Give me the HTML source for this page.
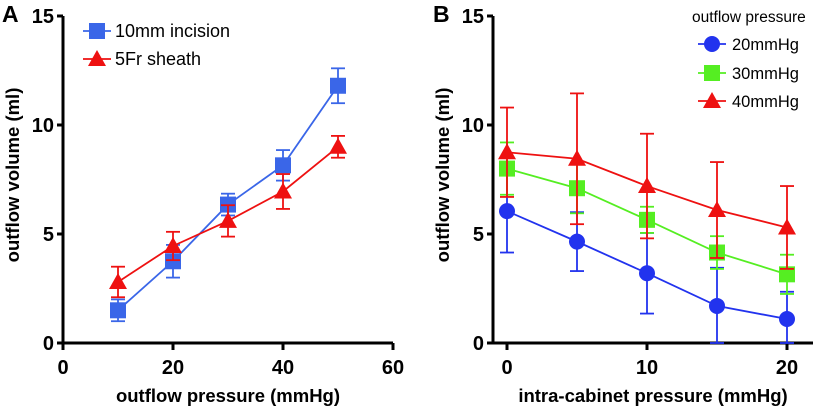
<!DOCTYPE html>
<html><head><meta charset="utf-8"><style>
body{margin:0;background:#fff}
svg text{font-family:"Liberation Sans",Arial,sans-serif;font-weight:bold}
</style></head><body>
<svg id="c" width="816" height="408" viewBox="0 0 816 408" xmlns="http://www.w3.org/2000/svg"></svg>
<script>
const aX=[10,20,30,40,50];
const aBlue=[1.5,3.75,6.35,8.15,11.8];
const aBlueErr=[0.5,0.75,0.5,0.7,0.8];
const aRed=[2.8,4.45,5.6,6.95,9.0];
const aRedErr=[0.7,0.65,0.72,0.8,0.5];
const bX=[0,5,10,15,20];
const b20=[6.05,4.65,3.2,1.7,1.1];
const b20Err=[1.9,1.35,1.85,1.75,1.25];
const b30=[8.0,7.1,5.65,4.15,3.15];
const b30Err=[1.2,1.15,0.6,0.75,0.9];
const b40=[8.75,8.45,7.2,6.1,5.3];
const b40Err=[2.05,3.0,2.4,2.2,1.9];
const aXTicks=[0,20,40,60];
const bXTicks=[0,10,20];
const yTicks=[0,5,10,15];

const svg=document.getElementById('c');
const NS='http://www.w3.org/2000/svg';
function el(t,a,p){const e=document.createElementNS(NS,t);for(const k in a)e.setAttribute(k,a[k]);(p||svg).appendChild(e);return e;}
const Y=v=>343-v*21.8;
const AX=v=>63+v*5.5;
const BX=v=>507+v*14;

function axes(name,axX,xMin,xEnd,xs,ticks,xlabel,xlabCx,letter,letterX){
  const g=el('g',{});
  
  
  el('line',{x1:axX,y1:16,x2:axX,y2:344.5,stroke:'#000','stroke-width':3},g);
  el('line',{x1:axX-1.5,y1:343,x2:xEnd,y2:343,stroke:'#000','stroke-width':3},g);
  yTicks.forEach(v=>{
    el('line',{x1:axX-6,y1:Y(v),x2:axX,y2:Y(v),stroke:'#000','stroke-width':3},g);
    const t=el('text',{x:axX-9,y:Y(v)+7,'text-anchor':'end','font-size':20},g);t.textContent=v;
    
    
  });
  ticks.forEach(v=>{
    el('line',{x1:xs(v),y1:343,x2:xs(v),y2:350,stroke:'#000','stroke-width':3},g);
    const t=el('text',{x:xs(v),y:374,'text-anchor':'middle','font-size':20},g);t.textContent=v;
    
    
  });
  const xl=el('text',{x:xlabCx,y:402,'text-anchor':'middle','font-size':18.5},g);xl.textContent=xlabel;
  
  
  const yl=el('text',{x:0,y:0,'text-anchor':'middle','font-size':18.5,transform:`translate(${axX-44},175) rotate(-90)`},g);yl.textContent='outflow volume (ml)';
  
  
  const L=el('text',{x:letterX,y:22,'font-size':23},g);L.textContent=letter;
  
  
}
function marker(shape,x,y,color,g){
  if(shape==='sq')return el('rect',{x:x-8,y:y-8,width:16,height:16,fill:color},g);
  if(shape==='tri')return el('polygon',{points:`${x},${y-9} ${x-9},${y+7} ${x+9},${y+7}`,fill:color},g);
  return el('circle',{cx:x,cy:y,r:8,fill:color},g);
}
function series(name,xv,yv,ev,xs,color,shape){
  const g=el('g',{});
  
  
  el('polyline',{points:xv.map((x,i)=>xs(x)+','+Y(yv[i])).join(' '),fill:'none',stroke:color,'stroke-width':1.8},g);
  xv.forEach((x,i)=>{
    const px=xs(x),lo=Y(Math.max(0,yv[i]-ev[i])),hi=Y(yv[i]+ev[i]);
    el('line',{x1:px,y1:lo,x2:px,y2:hi,stroke:color,'stroke-width':1.8},g);
    el('line',{x1:px-7,y1:lo,x2:px+7,y2:lo,stroke:color,'stroke-width':1.8},g);
    el('line',{x1:px-7,y1:hi,x2:px+7,y2:hi,stroke:color,'stroke-width':1.8},g);
    const m=marker(shape,px,Y(yv[i]),color,g);
    
    
  });
}
function legend(x,y,label,color,shape,fs,tx){
  const g=el('g',{});
  
  
  el('line',{x1:x-14,y1:y,x2:x+14,y2:y,stroke:color,'stroke-width':1.8},g);
  marker(shape,x,y,color,g);
  const t=el('text',{x:tx,y:y+6,'font-size':fs,style:'font-weight:normal'},g);t.textContent=label;
}
axes('panel-a',63,0,393,AX,aXTicks,'outflow pressure (mmHg)',228,'A',2);
series('series-10mm-incision',aX,aBlue,aBlueErr,AX,'#3a66e8','sq');
series('series-5fr-sheath',aX,aRed,aRedErr,AX,'#ee1111','tri');
legend(97,31,'10mm incision','#3a66e8','sq',18,115);
legend(97,59,'5Fr sheath','#ee1111','tri',18,115);

axes('panel-b',493,0,813,BX,bXTicks,'intra-cabinet pressure (mmHg)',653,'B',433);
series('series-20mmhg',bX,b20,b20Err,BX,'#2233ee','circ');
series('series-30mmhg',bX,b30,b30Err,BX,'#55ee22','sq');
series('series-40mmhg',bX,b40,b40Err,BX,'#ee1111','tri');
const lt=el('text',{x:692,y:22,'font-size':15.5,style:'font-weight:normal'});lt.textContent='outflow pressure';


legend(712,44,'20mmHg','#2233ee','circ',16.5,732);
legend(712,73,'30mmHg','#55ee22','sq',16.5,732);
legend(712,101,'40mmHg','#ee1111','tri',16.5,732);
</script>
</body></html>
